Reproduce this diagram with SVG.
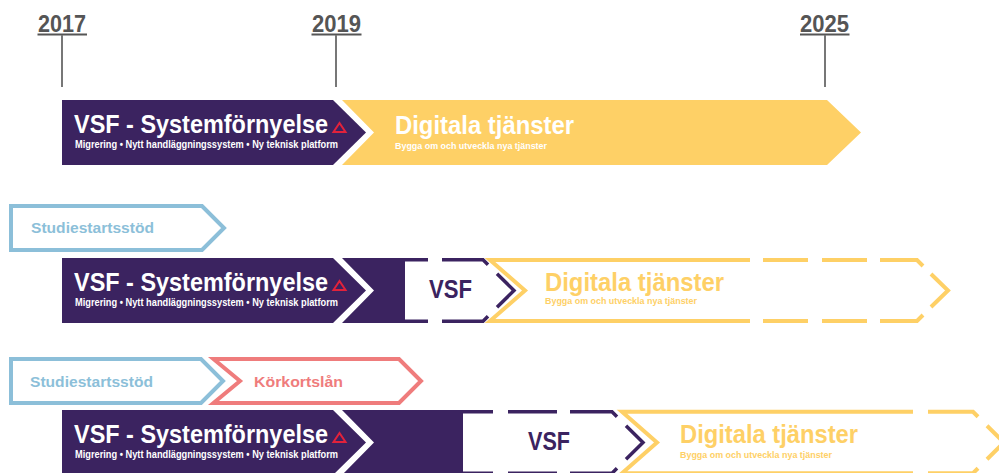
<svg xmlns="http://www.w3.org/2000/svg" xmlns:xlink="http://www.w3.org/1999/xlink" width="999" height="473" viewBox="0 0 999 473">
<style>
text{font-family:"Liberation Sans",Arial,sans-serif;font-weight:bold}
.yr{font-size:23px;fill:#555}
.uline{stroke:#555;stroke-width:2}
.tick{stroke:#777;stroke-width:2}
.purple{fill:#3b2360}
.yellowf{fill:#fed066}
.gap{fill:#fff}
.t1{font-size:25px;fill:#fff}
.s1{font-size:10px;fill:#fff}
.s2{font-size:9.5px}
.tri{fill:none;stroke:#e2223b;stroke-width:2;stroke-linejoin:miter}
.ydash{fill:none;stroke:#fed066;stroke-width:4;stroke-linejoin:miter}
.pdash{fill:none;stroke:#3b2360;stroke-width:3.5;stroke-linejoin:miter}
.blue{fill:#fff;stroke:#8cbfd9;stroke-width:4}
.red{fill:#fff;stroke:#ef7c7c;stroke-width:4}
.bt{font-size:15px;fill:#8cbfd9}
.rt{font-size:15px;fill:#ef7c7c}
.pt{font-size:25px;fill:#3b2360}
.yt{font-size:25px;fill:#fed066}
.ys{font-size:9.5px;fill:#fed066}
</style>
<defs>
<polygon id="warn" class="tri" points="333.5,132 339.5,123 345.5,132"/>
</defs>

<g id="timeline">
<g id="y2017">
<text class="yr" x="38" y="31.5" textLength="48" lengthAdjust="spacingAndGlyphs">2017</text>
<line class="uline" x1="37.5" y1="34.5" x2="87" y2="34.5"/>
<line class="tick" x1="62" y1="35" x2="62" y2="87"/>
</g>
<g id="y2019">
<text class="yr" x="312" y="31.5" textLength="49" lengthAdjust="spacingAndGlyphs">2019</text>
<line class="uline" x1="311.5" y1="34.5" x2="361.5" y2="34.5"/>
<line class="tick" x1="336" y1="35" x2="336" y2="87"/>
</g>
<g id="y2025">
<text class="yr" x="800" y="31.5" textLength="49" lengthAdjust="spacingAndGlyphs">2025</text>
<line class="uline" x1="800" y1="34.5" x2="849.5" y2="34.5"/>
<line class="tick" x1="825" y1="35" x2="825" y2="87"/>
</g>
</g>

<g id="row1">
<g id="r1-vsf">
<polygon class="purple" points="62,100 333,100 366,132.5 333,165 62,165"/>
<text class="t1" x="74" y="133" textLength="254" lengthAdjust="spacingAndGlyphs">VSF - Systemförnyelse</text>
<use xlink:href="#warn"/>
<text class="s1" x="75" y="148" textLength="263" lengthAdjust="spacingAndGlyphs">Migrering • Nytt handläggningssystem • Ny teknisk platform</text>
</g>
<g id="r1-digital">
<polygon class="yellowf" points="342,100 827,100 861,132.5 827,165 342,165 374,132.5"/>
<text class="t1" x="395" y="134" textLength="179" lengthAdjust="spacingAndGlyphs">Digitala tjänster</text>
<text class="s2" fill="#fff" x="395" y="149" textLength="152" lengthAdjust="spacingAndGlyphs">Bygga om och utveckla nya tjänster</text>
</g>
</g>

<g id="row2">
<g id="r2-studie">
<polygon class="blue" points="11,206 202,206 224,228 202,250 11,250"/>
<text class="bt" x="31" y="233" textLength="123" lengthAdjust="spacingAndGlyphs">Studiestartsstöd</text>
</g>
<g id="r2-vsf">
<polygon class="purple" points="62,258 405,258 405,323 62,323"/>
<polygon class="gap" points="333,258 342,258 374,290.5 342,323 333,323 366,290.5"/>
<text class="t1" x="74" y="291" textLength="254" lengthAdjust="spacingAndGlyphs">VSF - Systemförnyelse</text>
<use xlink:href="#warn" transform="translate(0,158)"/>
<text class="s1" x="75" y="306" textLength="263" lengthAdjust="spacingAndGlyphs">Migrering • Nytt handläggningssystem • Ny teknisk platform</text>
</g>
<g id="r2-vsf-next">
<path class="pdash" d="M403,259.75H428M442,259.75H483L488,264.75M497,273.75L514,290.5L497,307.25M488,316.25L483,321.25H442M428,321.25H403"/>
<text class="pt" x="429" y="298" textLength="43" lengthAdjust="spacingAndGlyphs">VSF</text>
</g>
<g id="r2-digital">
<path class="ydash" d="M750,260H490L525,290.5L490,321H750M763,260H808M822,260H867M880,260H917L923,266M931,274L948,290.5L931,307M923,315L917,321H880M867,321H822M808,321H763"/>
<text class="yt" x="545" y="291" textLength="179" lengthAdjust="spacingAndGlyphs">Digitala tjänster</text>
<text class="ys" x="545" y="304" textLength="152" lengthAdjust="spacingAndGlyphs">Bygga om och utveckla nya tjänster</text>
</g>
</g>

<g id="row3">
<g id="r3-studie">
<polygon class="blue" points="11,359 201,359 223,381 201,403 11,403"/>
<text class="bt" x="30" y="387" textLength="123" lengthAdjust="spacingAndGlyphs">Studiestartsstöd</text>
</g>
<g id="r3-korkort">
<polygon class="red" points="213.5,359 399,359 421,381 399,403 213.5,403 240,381"/>
<text class="rt" x="254" y="387" textLength="89" lengthAdjust="spacingAndGlyphs">Körkortslån</text>
</g>
<g id="r3-vsf">
<polygon class="purple" points="62,410 463,410 463,475 62,475"/>
<polygon class="gap" points="333,410 342,410 374,442.5 342,475 333,475 366,442.5"/>
<text class="t1" x="74" y="443" textLength="254" lengthAdjust="spacingAndGlyphs">VSF - Systemförnyelse</text>
<use xlink:href="#warn" transform="translate(0,310)"/>
<text class="s1" x="75" y="458" textLength="263" lengthAdjust="spacingAndGlyphs">Migrering • Nytt handläggningssystem • Ny teknisk platform</text>
</g>
<g id="r3-vsf-next">
<path class="pdash" d="M461,411.75H493M508,411.75H557M570,411.75H612L617,416.75M626,425.75L643,442.5L626,459.25M617,468.25L612,473.25H570M557,473.25H508M493,473.25H461"/>
<text class="pt" x="528" y="450" textLength="42" lengthAdjust="spacingAndGlyphs">VSF</text>
</g>
<g id="r3-digital">
<path class="ydash" d="M913,411.75H622L657,442.5L622,473.25H913M928,411.75H973L978,416.75M987,425.75L1004,442.5L987,459.25M978,468.25L973,473.25H928"/>
<text class="yt" x="680" y="443" textLength="178" lengthAdjust="spacingAndGlyphs">Digitala tjänster</text>
<text class="ys" x="680" y="458" textLength="152" lengthAdjust="spacingAndGlyphs">Bygga om och utveckla nya tjänster</text>
</g>
</g>

<g id="connectors"></g>
</svg>
